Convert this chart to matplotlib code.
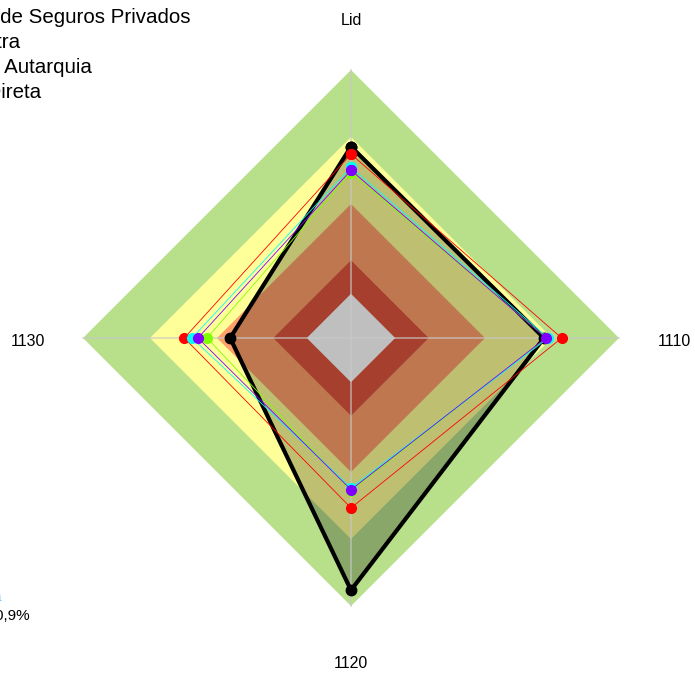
import numpy as np
import matplotlib
matplotlib.use('Agg')
import matplotlib.pyplot as plt

plt.rcParams['font.family'] = ['Liberation Sans', 'DejaVu Sans']

# ---- data ----
categories = ['Lid', '1110', '1120', '1130']
band_limits = [1.0, 0.75, 0.5, 0.29, 0.165]
band_colors = ['#b8e08b', '#ffff99', '#ffa06b', '#e05540', '#ffffff']

susep = [0.714, 0.720, 0.941, 0.451]
media_amostra = [0.686, 0.786, 0.634, 0.622]
media_verde = [0.617, 0.730, 0.570, 0.537]
media_ciano = [0.637, 0.736, 0.559, 0.593]
media_roxo = [0.626, 0.727, 0.566, 0.571]

legend_texts = ['Superintendência de Seguros Privados', 'Média da Amostra',
                'Média Natureza Autarquia', 'Administração Direta']
note_text = 'Percentual: 60,9%'

# ---- figure ----
W, H, DPI = 695, 673, 100
fig = plt.figure(figsize=(W / DPI, H / DPI), dpi=DPI)
ax = fig.add_axes([0, 0, 1, 1])
cx, cy, scale = 351.0, 338.0, 268.0
ax.set_xlim(-cx / scale, (W - cx) / scale)
ax.set_ylim(-(H - cy) / scale, cy / scale)
ax.axis('off')

n = len(categories)
theta = np.deg2rad(90 - np.arange(n) * 360.0 / n)


def to_xy(vals):
    v = np.asarray(vals, dtype=float)
    x = v * np.cos(theta)
    y = v * np.sin(theta)
    return np.append(x, x[0]), np.append(y, y[0])


# background bands
for r, c in zip(band_limits, band_colors):
    x, y = to_xy([r] * n)
    ax.fill(x, y, color=c, lw=0, zorder=1)

# highlighted series fill
x, y = to_xy(susep)
ax.fill(x, y, color='black', alpha=0.25, lw=0, zorder=2)

# spokes
for t in theta:
    ax.plot([0, np.cos(t)], [0, np.sin(t)], color='#c8c8c8', lw=1.2, alpha=0.7, zorder=3)

# series
ax.plot(x, y, color='black', lw=3, marker='o', ms=7.5, zorder=4)
for vals, col in [(media_amostra, '#ff0000'), (media_verde, '#80ff00'),
                  (media_ciano, '#00ffff'), (media_roxo, '#8000ff')]:
    xs, ys = to_xy(vals)
    ax.plot(xs, ys, color=col, lw=0.6, marker='o', ms=7, zorder=5)

# axis labels
for t, lab in zip(theta, categories):
    ax.text(1.205 * np.cos(t), 1.20 * np.sin(t) - 0.014, lab, ha='center', va='center',
            fontsize=11.5, color='black', zorder=6)

# legend texts (partially outside the figure)
right_ends = [191, 20.5, 92, 41.5]
baselines = [23, 48, 73, 98]
for txt, xr, yb in zip(legend_texts, right_ends, baselines):
    fig.text(xr / W, 1 - yb / H, txt, ha='right', va='baseline', fontsize=14.8,
             color='black')

fig.text(30 / W, 1 - 620 / H, note_text, ha='right', va='baseline', fontsize=11,
         color='black')
fig.text(2.5 / W, 1 - 601 / H, 'Média', ha='right', va='baseline', fontsize=11,
         color='#7ec8f0')

fig.savefig('out.png', dpi=DPI)
